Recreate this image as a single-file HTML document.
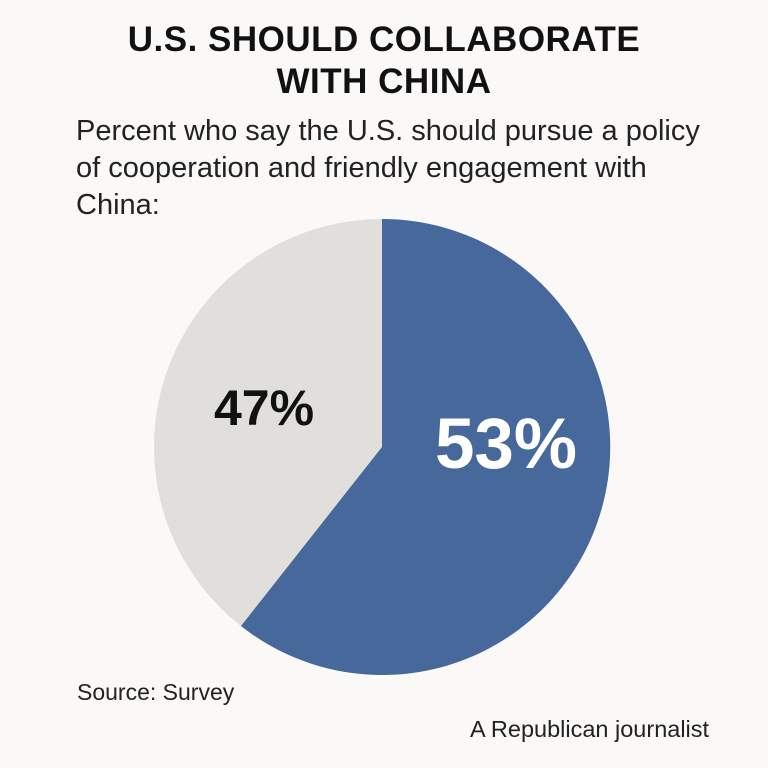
<!DOCTYPE html>
<html><head><meta charset="utf-8"><style>
html,body{margin:0;padding:0;background:#fbf9f7;}
body{width:768px;height:768px;position:relative;overflow:hidden;font-family:"Liberation Sans","DejaVu Sans",sans-serif;color:#111;}
.t{position:absolute;left:0;width:768px;text-align:center;font-weight:bold;font-size:35px;line-height:40px;letter-spacing:0.5px;}
.s{position:absolute;left:76px;top:113px;font-size:29px;line-height:37px;color:#222;}
.src{position:absolute;left:77px;top:679px;font-size:23px;color:#222;}
.j{position:absolute;left:470px;top:716px;font-size:23.5px;color:#222;}
</style></head><body>
<div class="t" style="top:20px">U.S. SHOULD COLLABORATE</div>
<div class="t" style="top:62px">WITH CHINA</div>
<div class="s">Percent who say the U.S. should pursue a policy<br>of cooperation and friendly engagement with<br>China:</div>
<svg width="768" height="768" style="position:absolute;left:0;top:0">
<circle cx="382" cy="447" r="228" fill="#e1dfdb"/>
<path d="M382 447 L382 219 A228 228 0 1 1 241 626 Z" fill="#46689a"/>
<text x="264" y="425" font-family="Liberation Sans,sans-serif" font-size="50" font-weight="bold" text-anchor="middle" fill="#111">47%</text>
<text x="506" y="468" font-family="Liberation Sans,sans-serif" font-size="71" font-weight="bold" text-anchor="middle" fill="#fff">53%</text>
</svg>
<div class="src">Source: Survey</div>
<div class="j">A Republican journalist</div>
</body></html>
